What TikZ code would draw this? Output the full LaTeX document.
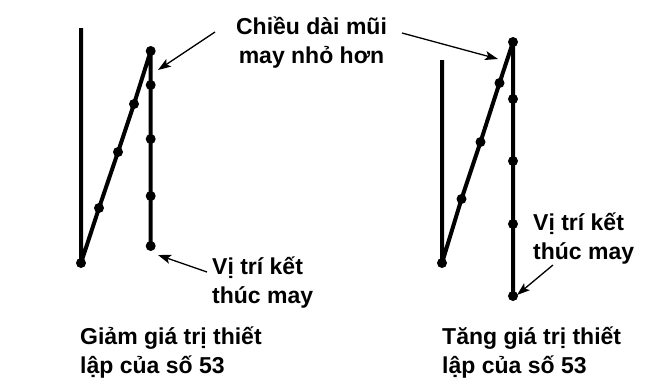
\documentclass[tikz,border=0pt]{standalone}
\usepackage{fontspec}
\setmainfont{Liberation Sans}
\usetikzlibrary{arrows.meta}
\tikzset{
  stitch/.style={line width=4pt,line join=round},
  pt/.style={circle,fill=black,inner sep=0pt,minimum size=10pt},
  lbl/.style={font=\bfseries\fontsize{23}{29}\selectfont,inner sep=0pt},
  callout/.style={-{Stealth[length=13pt,width=9pt,inset=3pt]},line width=1.3pt}
}
\begin{document}
\begin{tikzpicture}[x=1pt,y=-1pt]
	\useasboundingbox (0,0) rectangle (651,383);
	% left pattern (smaller value)
	\coordinate (La) at (81,28);
	\node[pt] (L0) at (81,263) {};
	\node[pt] (L1) at (99,208) {};
	\node[pt] (L2) at (118,152) {};
	\node[pt] (L3) at (134,104) {};
	\node[pt] (L4) at (150.7,51) {};
	\node[pt] (L5) at (150.7,85) {};
	\node[pt] (L6) at (150.7,139) {};
	\node[pt] (L7) at (150.7,196) {};
	\node[pt] (L8) at (150.7,246) {};
	\draw[stitch] (La) -- (L0.center) -- (L1.center) -- (L2.center) -- (L3.center) -- (L4.center)
		-- (L5.center) -- (L6.center) -- (L7.center) -- (L8.center);
	% right pattern (larger value)
	\coordinate (Ra) at (442,60);
	\node[pt] (R0) at (442,263) {};
	\node[pt] (R1) at (461.5,199) {};
	\node[pt] (R2) at (480.5,142) {};
	\node[pt] (R3) at (499.5,83) {};
	\node[pt] (R4) at (513,42) {};
	\node[pt] (R5) at (513,99) {};
	\node[pt] (R6) at (513,161) {};
	\node[pt] (R7) at (513,224) {};
	\node[pt] (R8) at (513,296) {};
	\draw[stitch] (Ra) -- (R0.center) -- (R1.center) -- (R2.center) -- (R3.center) -- (R4.center)
		-- (R5.center) -- (R6.center) -- (R7.center) -- (R8.center);
	% labels (base = last line)
	\node[lbl,align=center,anchor=base] (len) at (311.5,63) {Chiều dài mũi\\may nhỏ hơn};
	\node[lbl,align=left,anchor=base west] (endL) at (212,303) {Vị trí kết\\thúc may};
	\node[lbl,align=left,anchor=base west] (endR) at (533,259) {Vị trí kết\\thúc may};
	\node[lbl,align=left,anchor=base west] (capL) at (80,373) {Giảm giá trị thiết\\lập của số 53};
	\node[lbl,align=left,anchor=base west] (capR) at (442,373) {Tăng giá trị thiết\\lập của số 53};
	% callouts
	\coordinate (lenA) at (215,32);
	\coordinate (tipA) at (158,70);
	\coordinate (lenB) at (402,33);
	\coordinate (tipB) at (498,59);
	\coordinate (endA) at (207,272);
	\coordinate (tipC) at (158,255);
	\coordinate (endB) at (553,265);
	\coordinate (tipD) at (517,295);
	\draw[callout] (lenA) -- (tipA);
	\draw[callout] (lenB) -- (tipB);
	\draw[callout] (endA) -- (tipC);
	\draw[callout] (endB) -- (tipD);
\end{tikzpicture}
\end{document}
